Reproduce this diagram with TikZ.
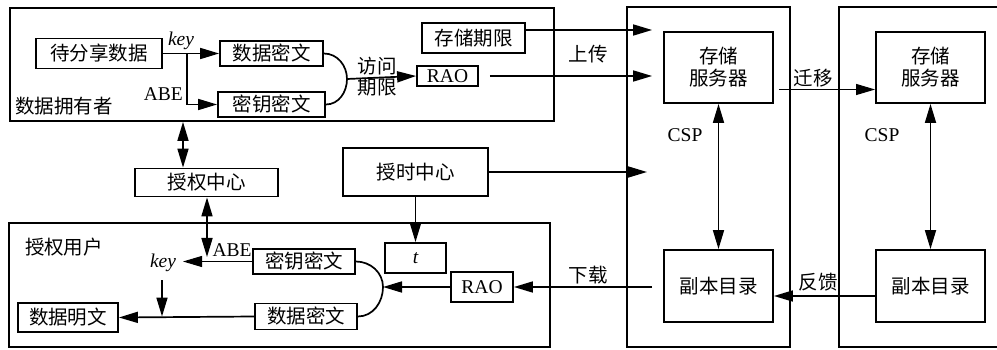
\documentclass[tikz,border=0pt]{standalone}
\usepackage{fontspec}
\setmainfont{Liberation Serif}
\newfontfamily\cjk{Noto Sans CJK SC}
\usetikzlibrary{arrows.meta,calc}
\tikzset{
  box/.style={draw, line width=1.8pt, inner sep=0pt, align=center, font=\cjk\fontsize{19.5}{22}\selectfont},
  frame/.style={draw, line width=1.8pt, inner sep=0pt},
  lat/.style={font=\fontsize{19.5}{22}\selectfont},
  arr/.style={line width=1.7pt, -{Triangle[length=19pt,width=11pt]}},
  darr/.style={line width=1.7pt, {Triangle[length=19pt,width=11pt]}-{Triangle[length=19pt,width=11pt]}},
  tarr/.style={line width=1pt, -{Triangle[length=19pt,width=11pt]}},
  lbl/.style={inner sep=0pt, align=center, font=\cjk\fontsize{19.5}{21}\selectfont},
  llat/.style={inner sep=0pt, font=\fontsize{19.5}{22}\selectfont},
}
\begin{document}
\begin{tikzpicture}[x=1pt,y=-1pt]
\useasboundingbox (0,0) rectangle (997,350);
% frames
\node[frame, minimum width=544, minimum height=113] (owner) at (282,64.5) {};
\node[frame, minimum width=541, minimum height=124] (user) at (279.5,285) {};
\node[frame, minimum width=163, minimum height=340] (csp1) at (708.5,177) {};
\node[frame, minimum width=171, minimum height=340] (csp2) at (924.5,177) {};
% owner boxes
\node[box, minimum width=126, minimum height=30] (src) at (99,53.5) {待分享数据};
\node[box, minimum width=103, minimum height=25] (dct1) at (271.5,53.5) {数据密文};
\node[box, minimum width=107, minimum height=25] (kct1) at (271.5,104.5) {密钥密文};
\node[box, minimum width=103, minimum height=30] (exp) at (473.5,38) {存储期限};
\node[box, lat, minimum width=61, minimum height=20] (rao1) at (447.5,76) {RAO};
% csp boxes
\node[box, minimum width=109, minimum height=71] (ss1) at (718.5,67.5) {存储\\服务器};
\node[box, minimum width=109, minimum height=71] (ss2) at (930.5,67.5) {存储\\服务器};
\node[box, minimum width=109, minimum height=72] (rd1) at (718.5,286) {副本目录};
\node[box, minimum width=109, minimum height=72] (rd2) at (930.5,286) {副本目录};
% middle
\node[box, minimum width=143, minimum height=28] (auth) at (206.5,182.5) {授权中心};
\node[box, minimum width=145, minimum height=48] (tc) at (415.5,172) {授时中心};
% user boxes
\node[box, lat, minimum width=61, minimum height=30] (tbox) at (415.5,258) {\itshape t};
\node[box, lat, minimum width=62, minimum height=30] (rao2) at (482,287) {RAO};
\node[box, minimum width=102, minimum height=25] (kct2) at (304,261.5) {密钥密文};
\node[box, minimum width=102, minimum height=26] (dct2) at (306,316.5) {数据密文};
\node[box, minimum width=100, minimum height=29] (plain) at (68,317.5) {数据明文};
% labels
\node[llat] (lkey1) at (181,41) {\itshape key};
\node[llat, anchor=east] (labe1) at (183,94) {ABE};
\node[lbl] (lown) at (64,106) {数据拥有者};
\node[lbl] (lacc) at (377,77) {访问\\期限};
\node[lbl] (lup) at (588,54) {上传};
\node[lbl] (lmig) at (813,78) {迁移};
\node[llat] (lcsp1) at (685,135) {CSP};
\node[llat] (lcsp2) at (882,135) {CSP};
\node[lbl] (lfb) at (818,282) {反馈};
\node[lbl] (ldl) at (588,275) {下载};
\node[lbl] (luser) at (64,247) {授权用户};
\node[llat] (lkey2) at (163,263) {\itshape key};
\node[llat] (labe2) at (232,250) {ABE};
% owner connectors
\coordinate (br) at (187,53.5);
\draw[arr] (src.east) -- (dct1.west);
\draw[arr] (br) |- (kct1.west);
\coordinate (arcm1) at (347,79);
\draw[line width=1.7pt] (dct1.east) to[out=0,in=90] (arcm1) to[out=-90,in=0] (kct1.east);
\draw[arr] (arcm1) -- (rao1.west);
\coordinate (e1) at ([yshift=8pt]exp.east);
\draw[arr, shorten >=11pt] (e1) -- (e1 -| ss1.west);
\draw[arr, shorten <=11pt, shorten >=11pt] (rao1.east) -- (rao1.east -| ss1.west);
% csp connectors
\draw[darr] (ss1.south) -- (rd1.north);
\draw[darr] (ss2.south) -- (rd2.north);
\coordinate (m1) at ([yshift=-22pt]ss1.east);
\draw[tarr, shorten <=5pt] (m1) -- (m1 -| ss2.west);
\coordinate (f1) at ([yshift=-10pt]rd2.west);
\draw[arr] (f1) -- (f1 -| rd1.east);
\draw[arr, shorten <=11pt] (rd1.west |- rao2.east) -- (rao2.east);
% middle connectors
\coordinate (tce) at (647,172);
\draw[arr] (tc.east) -- (tce);
\draw[arr] (tc.south) -- (tbox.north);
\coordinate (oa) at (183,0);
\draw[darr] (oa |- owner.south) -- (oa |- auth.north);
\coordinate (ab) at (207,257);
\draw[darr] (ab |- auth.south) -- (ab);
% user connectors
\coordinate (kt) at (183,261.5);
\draw[tarr] (kct2.west) -- (kt);
\coordinate (kd) at (162,280);
\draw[arr] (kd) -- (kd |- dct2.west);
\draw[arr] (dct2.west) -- (plain.east);
\coordinate (arcm2) at (383,287);
\draw[line width=1.7pt] (kct2.east) to[out=0,in=90] (arcm2) to[out=-90,in=0] (dct2.east);
\draw[arr] (rao2.west) -- (arcm2);
\end{tikzpicture}
\end{document}
